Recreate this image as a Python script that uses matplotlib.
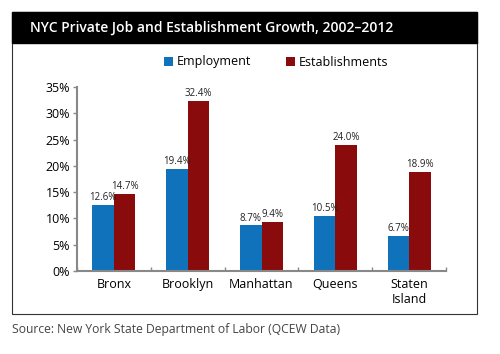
import matplotlib.pyplot as plt
from matplotlib.patches import Rectangle
import numpy as np

boroughs = ["Bronx", "Brooklyn", "Manhattan", "Queens", "Staten\nIsland"]
employment = [12.6, 19.4, 8.7, 10.5, 6.7]
establishments = [14.7, 32.4, 9.4, 24.0, 18.9]

blue = "#0f72ba"
red = "#8a0b0b"
plt.rcParams["font.family"] = ["Open Sans", "DejaVu Sans"]

fig = plt.figure(figsize=(5, 3.54), dpi=100)
W, H = 500, 354

# outer frame and black header band
fig.patches.append(Rectangle((12 / W, 1 - 314 / H), 465 / W, 302 / H,
                             transform=fig.transFigure, fill=False,
                             edgecolor="#333333", lw=0.8))
fig.patches.append(Rectangle((12 / W, 1 - 43 / H), 465 / W, 31 / H,
                             transform=fig.transFigure, color="black"))
fig.text(30 / W, 1 - 28 / H, "NYC Private Job and Establishment Growth, 2002\u20132012",
         color="white", fontsize=10, fontweight="semibold", va="center")
fig.text(12 / W, 1 - 330 / H, "Source: New York State Department of Labor (QCEW Data)",
         color="#444444", fontsize=8.7, va="center")

ax = fig.add_axes([77 / W, 1 - 271 / H, 369 / W, 184 / H])
x = np.arange(len(boroughs))
w = 0.29
b1 = ax.bar(x - w / 2, employment, w, color=blue, label="Employment")
b2 = ax.bar(x + w / 2, establishments, w, color=red, label="Establishments")

for bars, vals in ((b1, employment), (b2, establishments)):
    for bar, v in zip(bars, vals):
        ax.text(bar.get_x() + bar.get_width() / 2, v + 0.3, f"{v:.1f}%",
                ha="center", va="bottom", fontsize=7, color="#222222")

ax.set_xlim(-0.5, len(boroughs) - 0.5)
ax.set_ylim(0, 35)
ax.set_yticks(range(0, 36, 5))
ax.set_yticklabels([f"{t}%" for t in range(0, 36, 5)])
ax.set_xticks(x)
ax.set_xticklabels(boroughs)
ax.set_xticks(np.arange(-0.5, len(boroughs)), minor=True)
ax.tick_params(axis="x", which="major", length=0, labelsize=9, pad=5)
ax.tick_params(axis="x", which="minor", length=3, width=1, color="#888888", direction="in")
ax.tick_params(axis="y", length=3, width=1, color="#888888", labelsize=9, pad=2)
for s in ("top", "right"):
    ax.spines[s].set_visible(False)
for s in ("left", "bottom"):
    ax.spines[s].set_color("#888888")
    ax.spines[s].set_linewidth(1.5)

fig.legend(handles=[b1, b2], loc="center", bbox_to_anchor=(276 / W, 1 - 62 / H),
           ncol=2, frameon=False, fontsize=9, handlelength=0.7, handleheight=0.7,
           handletextpad=0.3, columnspacing=2.8)

fig.savefig("out.png", dpi=100)
